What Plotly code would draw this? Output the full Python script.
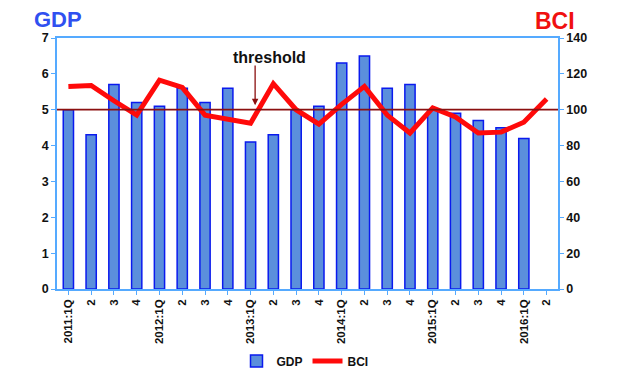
import plotly.graph_objects as go

categories = ["2011:1Q", "2", "3", "4", "2012:1Q", "2", "3", "4", "2013:1Q", "2", "3", "4",
              "2014:1Q", "2", "3", "4", "2015:1Q", "2", "3", "4", "2016:1Q", "2"]
gdp = [5.0, 4.3, 5.7, 5.2, 5.1, 5.6, 5.2, 5.6, 4.1, 4.3, 5.0, 5.1,
       6.3, 6.5, 5.6, 5.7, 5.0, 4.9, 4.7, 4.5, 4.2, None]
bci = [113, 113.5, 105, 97, 116.5, 112.5, 97, 94.5, 92.5, 114.5, 100, 92,
       103, 113, 97, 87, 101, 96, 87, 87.5, 93, 106]
threshold_bci = 100
left_ticks = [0, 1, 2, 3, 4, 5, 6, 7]
right_ticks = [0, 20, 40, 60, 80, 100, 120, 140]

xs = list(range(len(categories)))
FONT = "Liberation Sans, Arial, sans-serif"
AXC = "#55aaff"

# page body adds an 8px offset; figure is sized to fit the visible window
OFF = 8
W, H = 618 - OFF, 377 - OFF
L, T, R, B = 57 - OFF, 38 - OFF, 60, 88
pw, ph = W - L - R, H - T - B


def px(x):
    return (x - OFF - L) / pw


def py(y):
    return (H - B - (y - OFF)) / ph


fig = go.Figure()
fig.add_trace(go.Bar(
    x=xs, y=gdp, name="<b>GDP</b>",
    marker=dict(color="#5b8fdc", line=dict(color="#0a1aee", width=1.5)),
    yaxis="y"))
fig.add_trace(go.Scatter(
    x=xs, y=bci, name="<b>BCI</b>", mode="lines",
    line=dict(color="#ff0a0a", width=5), yaxis="y2"))

fig.add_shape(type="line", xref="paper", x0=0, x1=1, yref="y2",
              y0=threshold_bci, y1=threshold_bci,
              line=dict(color="#8b1010", width=1.8), layer="above")

# threshold arrow (head near the threshold line) and label above it
fig.add_annotation(x=8.2, y=102.5, xref="x", yref="y2", text="",
                   showarrow=True, axref="x", ayref="y2", ax=8.2, ay=125.5,
                   arrowhead=2, arrowsize=1, arrowwidth=1.3, arrowcolor="#8b1010")
fig.add_annotation(x=px(269), y=py(57), xref="paper", yref="paper", text="<b>threshold</b>",
                   showarrow=False, xanchor="center", yanchor="middle",
                   font=dict(size=16, color="#111111", family=FONT))
fig.add_annotation(x=px(32), y=py(19), xref="paper", yref="paper", text="<b>GDP</b>",
                   showarrow=False, xanchor="left", yanchor="middle",
                   font=dict(size=22, color="#3050f0", family=FONT))
fig.add_annotation(x=px(533), y=py(21), xref="paper", yref="paper", text="<b>BCI</b>",
                   showarrow=False, xanchor="left", yanchor="middle",
                   font=dict(size=23, color="#f01010", family=FONT))

fig.update_layout(
    width=W, height=H,
    margin=dict(l=L, r=R, t=T, b=B, autoexpand=False),
    paper_bgcolor="white", plot_bgcolor="white",
    font=dict(family=FONT, size=12, color="#111111"),
    bargap=0.55,
    showlegend=True,
    legend=dict(orientation="h", x=px(305), xanchor="center", y=py(361), yanchor="middle",
                font=dict(size=12, family=FONT, color="#111111"),
                itemwidth=30, tracegroupgap=0),
    xaxis=dict(
        tickmode="array", tickvals=xs, ticktext=["<b>%s</b>" % c for c in categories],
        range=[-0.5, len(categories) - 0.5], tickangle=-90,
        showline=True, linecolor=AXC, linewidth=1.5, mirror=True,
        ticks="outside", ticklen=4, tickcolor=AXC,
        showgrid=False, zeroline=False, tickfont=dict(size=11.5)),
    yaxis=dict(
        range=[0, 7], tickvals=left_ticks, ticktext=["<b>%d</b>" % v for v in left_ticks],
        showline=True, linecolor=AXC, linewidth=1.5,
        ticks="outside", ticklen=4, tickcolor=AXC,
        showgrid=False, zeroline=False, tickfont=dict(size=12.5)),
    yaxis2=dict(
        range=[0, 140], tickvals=right_ticks, ticktext=["<b>%d</b>" % v for v in right_ticks],
        overlaying="y", side="right",
        showline=True, linecolor=AXC, linewidth=1.5,
        ticks="outside", ticklen=4, tickcolor=AXC,
        showgrid=False, zeroline=False, tickfont=dict(size=12.5)),
)

fig.write_html("out.html")
